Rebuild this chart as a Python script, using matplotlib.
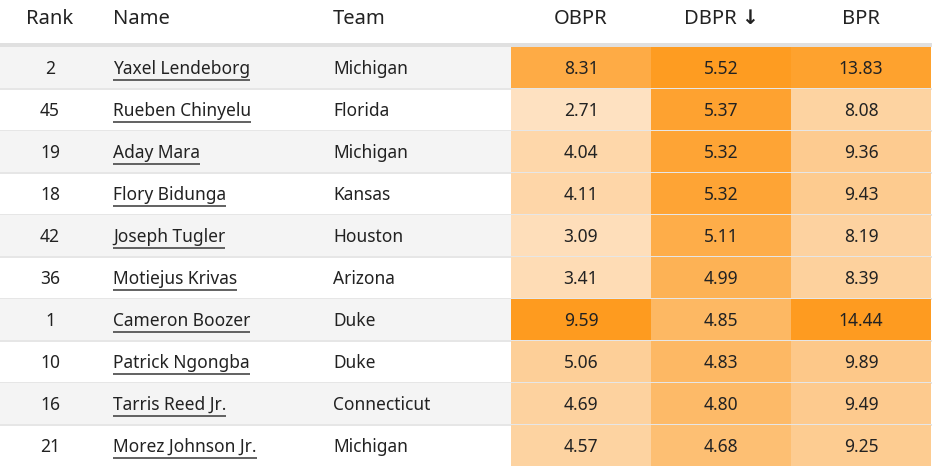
import matplotlib
matplotlib.use("Agg")
import matplotlib.pyplot as plt
import numpy as np
from matplotlib.colors import LinearSegmentedColormap

ranks = [2, 45, 19, 18, 42, 36, 1, 10, 16, 21]
names = ["Yaxel Lendeborg", "Rueben Chinyelu", "Aday Mara", "Flory Bidunga", "Joseph Tugler",
         "Motiejus Krivas", "Cameron Boozer", "Patrick Ngongba", "Tarris Reed Jr.", "Morez Johnson Jr."]
teams = ["Michigan", "Florida", "Michigan", "Kansas", "Houston", "Arizona", "Duke", "Duke",
         "Connecticut", "Michigan"]
obpr = [8.31, 2.71, 4.04, 4.11, 3.09, 3.41, 9.59, 5.06, 4.69, 4.57]
dbpr = [5.52, 5.37, 5.32, 5.32, 5.11, 4.99, 4.85, 4.83, 4.80, 4.68]
bpr = [13.83, 8.08, 9.36, 9.43, 8.19, 8.39, 14.44, 9.89, 9.49, 9.25]
headers = ["Rank", "Name", "Team", "OBPR", "DBPR ↓", "BPR"]

plt.rcParams['font.family'] = ['Noto Sans', 'DejaVu Sans']
cmap = LinearSegmentedColormap.from_list("o", ["#fee3c4", "#fdc787", "#fe9b1f"])

fig = plt.figure(figsize=(9.32, 4.66), dpi=100)
ax = fig.add_axes([0, 0, 1, 1])
ax.set_xlim(0, 932); ax.set_ylim(466, 0); ax.axis("off")

txt = "#222222"
hy = 19
hx = [(50, "center"), (113, "left"), (333, "left"), (581, "center"), (721, "center"), (861, "center")]
for (x, ha), h in zip(hx, headers):
    ax.text(x, hy, h, ha=ha, va="center", fontsize=14.5, fontweight="bold", color=txt)
ax.add_patch(plt.Rectangle((0, 43), 932, 4, color="#e0e0e0", lw=0))

top = 47; rh = 42
cols = [(obpr, 2.5, 9.6, 511), (dbpr, 3.4, 5.55, 651), (bpr, 5.5, 14.5, 791)]
name_texts = []
for i in range(10):
    y0 = top + i * rh
    if i % 2 == 0:
        ax.add_patch(plt.Rectangle((0, y0), 511, rh, color="#f4f4f4", lw=0))
    yc = y0 + rh / 2 + 1
    for j, (vals, lo, hi, x0) in enumerate(cols):
        f = np.clip((vals[i] - lo) / (hi - lo), 0, 1)
        ax.add_patch(plt.Rectangle((x0, y0), 140, rh, color=cmap(f), lw=0))
        ax.text(x0 + 70, yc, f"{vals[i]:.2f}", ha="center", va="center",
                fontsize=12.5, color=txt, fontweight="bold" if j == 2 else "normal")
    ax.add_patch(plt.Rectangle((0, y0 + rh - 1.5), 932, 2, color="#e6e6e6", lw=0))
    ax.text(50, yc, str(ranks[i]), ha="center", va="center", fontsize=12.5, color=txt)
    name_texts.append((ax.text(113, yc, names[i], ha="left", va="center", fontsize=12.5, color=txt), yc))
    ax.text(333, yc, teams[i], ha="left", va="center", fontsize=12.5, color=txt)

fig.canvas.draw()
r = fig.canvas.get_renderer()
inv = ax.transData.inverted()
for t, yc in name_texts:
    bb = t.get_window_extent(r)
    (x1, _), (x2, _) = inv.transform([[bb.x0, bb.y0], [bb.x1, bb.y0]])
    ax.plot([x1, x2], [yc + 11, yc + 11], color="#555555", lw=1.3, solid_capstyle="butt")

fig.savefig("out.png", dpi=100)
